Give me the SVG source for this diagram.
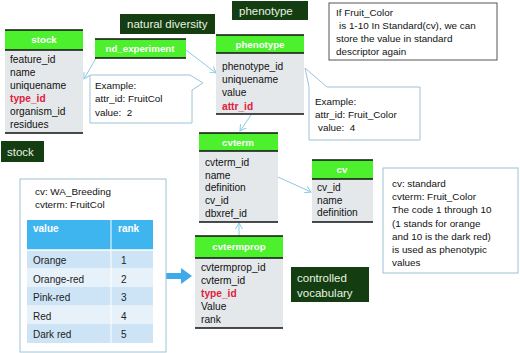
<svg xmlns="http://www.w3.org/2000/svg" width="520" height="353" viewBox="0 0 520 353">
<style>
text{font-family:"Liberation Sans",Arial,sans-serif;white-space:pre;}
.hd{fill:#4cf02c;}
.bd{fill:#e4e8ea;}
.ln{stroke:#111;stroke-width:1.6;}
.ht{fill:#ffffff;font-weight:bold;font-size:9.7px;text-anchor:middle;}
.rt{fill:#111;font-size:10.2px;}
.red{fill:#e0203c;font-weight:bold;}
.lab{fill:#143d12;}
.lt{fill:#e8f4e0;font-size:11.5px;}
.note{fill:#111;font-size:9.9px;}
.call{fill:#fff;stroke:#9ec3d6;stroke-width:1;}
.con{stroke:#8ccbe0;stroke-width:1;fill:none;marker-end:url(#ah);}
.wt{fill:#222;font-size:10px;}
.wh{fill:#fff;font-weight:bold;font-size:10px;}
</style>
<defs>
<marker id="ah" markerWidth="8" markerHeight="8" refX="6" refY="4" orient="auto" markerUnits="userSpaceOnUse">
<path d="M0,0.5 L6,4 L0,7.5" fill="none" stroke="#8ccbe0" stroke-width="1"/>
</marker>
</defs>
<rect width="520" height="353" fill="#ffffff"/>

<g id="connectors">
<line class="con" x1="96" y1="58" x2="84" y2="79"/>
<line class="con" x1="186" y1="50" x2="216" y2="73"/>
<line class="con" x1="251" y1="115" x2="240" y2="131"/>
<line class="con" x1="278" y1="177" x2="311" y2="192"/>
<line class="con" x1="239" y1="235" x2="239" y2="223"/>
<path d="M166,273 L181,273 L181,268 L192,276 L181,284 L181,279 L166,279 Z" fill="#3fa9ea"/>
</g>

<g id="label-stock">
<rect class="lab" x="1" y="141" width="43" height="21"/>
<text class="lt" x="7" y="156">stock</text>
</g>
<g id="label-natural-diversity">
<rect class="lab" x="120" y="14" width="95" height="20"/>
<text class="lt" x="127" y="28">natural diversity</text>
</g>
<g id="label-phenotype">
<rect class="lab" x="232" y="1" width="76" height="19"/>
<text class="lt" x="239" y="15">phenotype</text>
</g>
<g id="label-controlled-vocabulary">
<rect class="lab" x="291" y="267" width="78" height="35"/>
<text class="lt" x="297" y="282">controlled</text>
<text class="lt" x="297" y="297">vocabulary</text>
</g>

<g id="stock">
<rect class="hd" x="5" y="30" width="78" height="20"/>
<rect class="bd" x="5" y="50" width="78" height="83"/>
<line class="ln" x1="5" y1="30" x2="83" y2="30"/>
<line class="ln" x1="5" y1="50" x2="83" y2="50"/>
<line class="ln" x1="5" y1="133" x2="83" y2="133"/>
<text class="ht" x="44" y="43">stock</text>
<text class="rt" x="10" y="63">feature_id</text>
<text class="rt" x="10" y="76">name</text>
<text class="rt" x="10" y="89">uniquename</text>
<text class="rt red" x="10" y="102">type_id</text>
<text class="rt" x="10" y="115">organism_id</text>
<text class="rt" x="10" y="128">residues</text>
</g>

<g id="nd_experiment">
<rect class="hd" x="95" y="39" width="91" height="19"/>
<line class="ln" x1="95" y1="39" x2="186" y2="39"/>
<line class="ln" x1="95" y1="58" x2="186" y2="58"/>
<text class="ht" x="140" y="52">nd_experiment</text>
</g>

<g id="callout-nd">
<path class="call" d="M90,75 L190,75 L203,83 L192,90 L192,123 L90,123 Z"/>
<text class="note" x="95" y="89">Example:</text>
<text class="note" x="95" y="102">attr_id: FruitCol</text>
<text class="note" x="95" y="116">value:  2</text>
</g>

<g id="phenotype">
<rect class="hd" x="216" y="35" width="88" height="18"/>
<rect class="bd" x="216" y="53" width="88" height="61"/>
<line class="ln" x1="216" y1="35" x2="304" y2="35"/>
<line class="ln" x1="216" y1="53" x2="304" y2="53"/>
<line class="ln" x1="216" y1="114" x2="304" y2="114"/>
<text class="ht" x="260" y="48">phenotype</text>
<text class="rt" x="222" y="70">phenotype_id</text>
<text class="rt" x="222" y="83">uniquename</text>
<text class="rt" x="222" y="96">value</text>
<text class="rt red" x="222" y="110">attr_id</text>
</g>

<g id="callout-phenotype">
<path class="call" d="M309,87 L305,68 L327,87 L420,87 L420,140 L309,140 Z"/>
<text class="note" x="315" y="105">Example:</text>
<text class="note" x="315" y="118">attr_id: Fruit_Color</text>
<text class="note" x="318" y="131">value:  4</text>
</g>

<g id="note-top">
<rect x="329" y="3" width="168" height="57" fill="#fff" stroke="#555" stroke-width="1"/>
<text class="note" x="336" y="16">If Fruit_Color</text>
<text class="note" x="339" y="29">is 1-10 In Standard(cv), we can</text>
<text class="note" x="336" y="42">store the value in standard</text>
<text class="note" x="336" y="55">descriptor again</text>
</g>

<g id="cvterm">
<rect class="hd" x="199" y="133" width="79" height="18"/>
<rect class="bd" x="199" y="151" width="79" height="71"/>
<line class="ln" x1="199" y1="133" x2="278" y2="133"/>
<line class="ln" x1="199" y1="151" x2="278" y2="151"/>
<line class="ln" x1="199" y1="222" x2="278" y2="222"/>
<text class="ht" x="238" y="146">cvterm</text>
<text class="rt" x="205" y="166">cvterm_id</text>
<text class="rt" x="205" y="179">name</text>
<text class="rt" x="205" y="191">definition</text>
<text class="rt" x="205" y="204">cv_id</text>
<text class="rt" x="205" y="217">dbxref_id</text>
</g>

<g id="cv">
<rect class="hd" x="312" y="160" width="61" height="19"/>
<rect class="bd" x="312" y="179" width="61" height="43"/>
<line class="ln" x1="312" y1="160" x2="373" y2="160"/>
<line class="ln" x1="312" y1="179" x2="373" y2="179"/>
<line class="ln" x1="312" y1="222" x2="373" y2="222"/>
<text class="ht" x="342" y="173">cv</text>
<text class="rt" x="317" y="191">cv_id</text>
<text class="rt" x="317" y="204">name</text>
<text class="rt" x="317" y="216">definition</text>
</g>

<g id="note-cv">
<rect x="383" y="168" width="135" height="105" fill="#fff" stroke="#9ec3d6" stroke-width="1"/>
<text class="note" x="392" y="187">cv: standard</text>
<text class="note" x="392" y="200">cvterm: Fruit_Color</text>
<text class="note" x="392" y="213">The code 1 through 10</text>
<text class="note" x="392" y="227">(1 stands for orange</text>
<text class="note" x="392" y="240">and 10 is the dark red)</text>
<text class="note" x="392" y="253">is used as phenotypic</text>
<text class="note" x="392" y="266">values</text>
</g>

<g id="cvtermprop">
<rect class="hd" x="195" y="236" width="88" height="22"/>
<rect class="bd" x="195" y="258" width="88" height="70"/>
<line class="ln" x1="195" y1="236" x2="283" y2="236"/>
<line class="ln" x1="195" y1="258" x2="283" y2="258"/>
<line class="ln" x1="195" y1="328" x2="283" y2="328"/>
<text class="ht" x="239" y="250">cvtermprop</text>
<text class="rt" x="201" y="271">cvtermprop_id</text>
<text class="rt" x="201" y="284">cvterm_id</text>
<text class="rt red" x="201" y="297">type_id</text>
<text class="rt" x="201" y="310">Value</text>
<text class="rt" x="201" y="323">rank</text>
</g>

<g id="wa-breeding">
<rect x="20" y="179" width="146" height="173" fill="#fff" stroke="#9ec3d6" stroke-width="1"/>
<text class="note" x="35" y="195">cv: WA_Breeding</text>
<text class="note" x="35" y="208">cvterm: FruitCol</text>
<rect x="27" y="220" width="126" height="30" fill="#3fb5f0"/>
<rect x="27" y="250" width="126" height="18.5" fill="#cce4f6"/>
<rect x="27" y="268.5" width="126" height="18.5" fill="#e6f1fa"/>
<rect x="27" y="287" width="126" height="18.5" fill="#cce4f6"/>
<rect x="27" y="305.5" width="126" height="18.5" fill="#e6f1fa"/>
<rect x="27" y="324" width="126" height="19" fill="#cce4f6"/>
<line x1="27" y1="250" x2="153" y2="250" stroke="#fff" stroke-width="1.5"/>
<line x1="111" y1="220" x2="111" y2="343" stroke="#fff" stroke-width="1"/>
<text class="wh" x="33" y="232">value</text>
<text class="wh" x="118" y="232">rank</text>
<text class="wt" x="33" y="264">Orange</text>
<text class="wt" x="121" y="264">1</text>
<text class="wt" x="33" y="283">Orange-red</text>
<text class="wt" x="121" y="283">2</text>
<text class="wt" x="33" y="301">Pink-red</text>
<text class="wt" x="121" y="301">3</text>
<text class="wt" x="33" y="320">Red</text>
<text class="wt" x="121" y="320">4</text>
<text class="wt" x="33" y="338">Dark red</text>
<text class="wt" x="121" y="338">5</text>
</g>
</svg>
